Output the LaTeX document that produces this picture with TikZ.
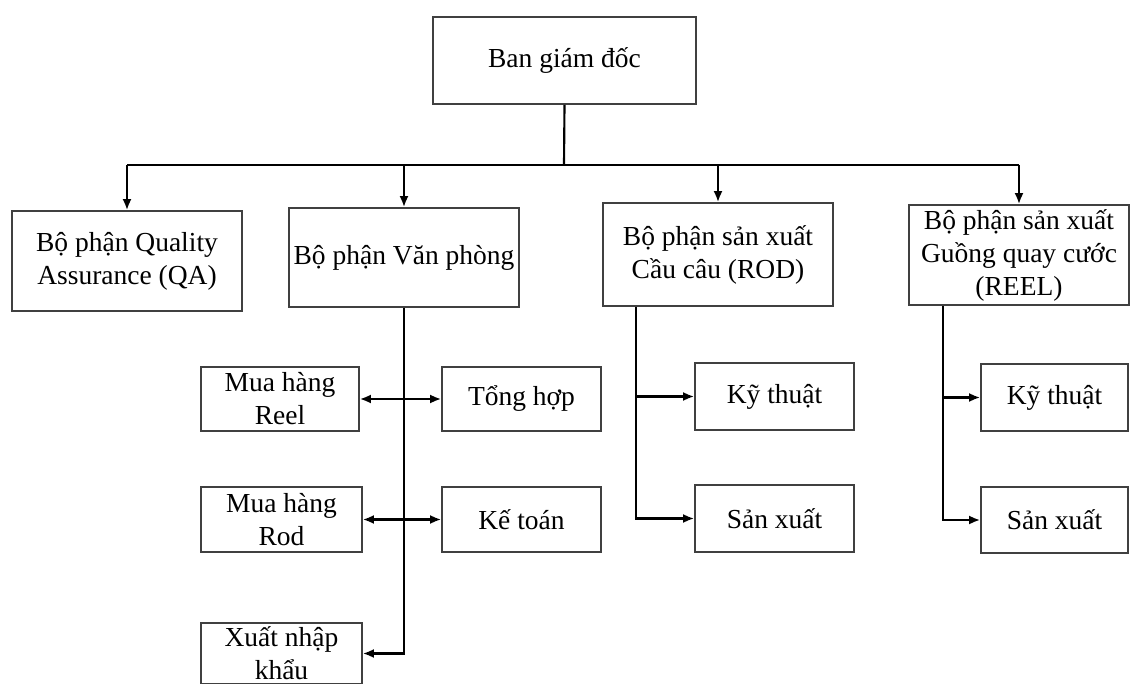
\documentclass[tikz,border=0pt]{standalone}
\usepackage{fontspec}
\setmainfont{Liberation Serif}
\usetikzlibrary{arrows.meta}

\tikzset{
	box/.style={draw=black!75, line width=0.6mm, rectangle, align=center, inner sep=0pt, font=\fontsize{27.5}{33}\selectfont},
	linkline/.style={line width=0.75mm},
	linkarrow/.style={linkline, -{Latex[length=11pt,width=9pt]}},
	linkboth/.style={linkline, {Latex[length=11pt,width=9pt]}-{Latex[length=11pt,width=9pt]}}
}

\begin{document}
\begin{tikzpicture}[x=1pt, y=-1pt]
			%%%%% START %%%%%
			
			\fill[white] (0, 0) rectangle (1130, 684);
			\useasboundingbox (0, 0) rectangle (1130, 684);
			
			\node[box, minimum width=263pt, minimum height=87pt] (bgd) at (564.5, 60.5) {Ban giám đốc};
			
			\node[box, minimum width=230pt, minimum height=100pt] (qa) at (127, 261) {Bộ phận Quality\\Assurance (QA)};
			\node[box, minimum width=230pt, minimum height=99pt] (vp) at (404, 257.5) {Bộ phận Văn phòng};
			\node[box, minimum width=230pt, minimum height=103pt] (rod) at (718, 254.5) {Bộ phận sản xuất\\Cầu câu (ROD)};
			\node[box, minimum width=220pt, minimum height=100pt] (reel) at (1019, 255) {Bộ phận sản xuất\\Guồng quay cước\\(REEL)};
			
			\node[box, minimum width=158pt, minimum height=64pt] (mhreel) at (280, 399) {Mua hàng\\Reel};
			\node[box, minimum width=159pt, minimum height=64pt] (tonghop) at (521.5, 399) {Tổng hợp};
			\node[box, minimum width=161pt, minimum height=65pt] (mhrod) at (281.5, 519.5) {Mua hàng\\Rod};
			\node[box, minimum width=159pt, minimum height=65pt] (ketoan) at (521.5, 519.5) {Kế toán};
			\node[box, minimum width=161pt, minimum height=61pt] (xnk) at (281.5, 653.5) {Xuất nhập\\khẩu};
			
			\node[box, minimum width=159pt, minimum height=67pt] (rodkt) at (774.5, 396.5) {Kỹ thuật};
			\node[box, minimum width=159pt, minimum height=67pt] (rodsx) at (774.5, 518.5) {Sản xuất};
			
			\node[box, minimum width=147pt, minimum height=67pt] (reelkt) at (1054.5, 397.5) {Kỹ thuật};
			\node[box, minimum width=147pt, minimum height=66pt] (reelsx) at (1054.5, 520) {Sản xuất};
			
			% top level
			\coordinate (bus) at (564, 165);
			\draw[linkline] (bgd.south) -- (bus);
			\draw[linkline] (qa.north |- bus) -- (reel.north |- bus);
			\foreach \dept in {qa, vp, rod, reel}
				\draw[linkarrow] (\dept.north |- bus) -- (\dept.north);
			
			% van phong
			\draw[linkarrow] (vp.south) |- (xnk.east);
			\draw[linkboth] (mhreel.east) -- (tonghop.west);
			\draw[linkboth] (mhrod.east) -- (ketoan.west);
			
			% rod
			\coordinate (rodtrunk) at ([xshift=34pt]rod.south west);
			\draw[linkarrow] (rodtrunk) |- (rodsx.west);
			\draw[linkarrow] (rodtrunk |- rodkt.west) -- (rodkt.west);
			
			% reel
			\coordinate (reeltrunk) at ([xshift=35pt]reel.south west);
			\draw[linkarrow] (reeltrunk) |- (reelsx.west);
			\draw[linkarrow] (reeltrunk |- reelkt.west) -- (reelkt.west);
			
			%%%%% END %%%%%
\end{tikzpicture}
\end{document}
